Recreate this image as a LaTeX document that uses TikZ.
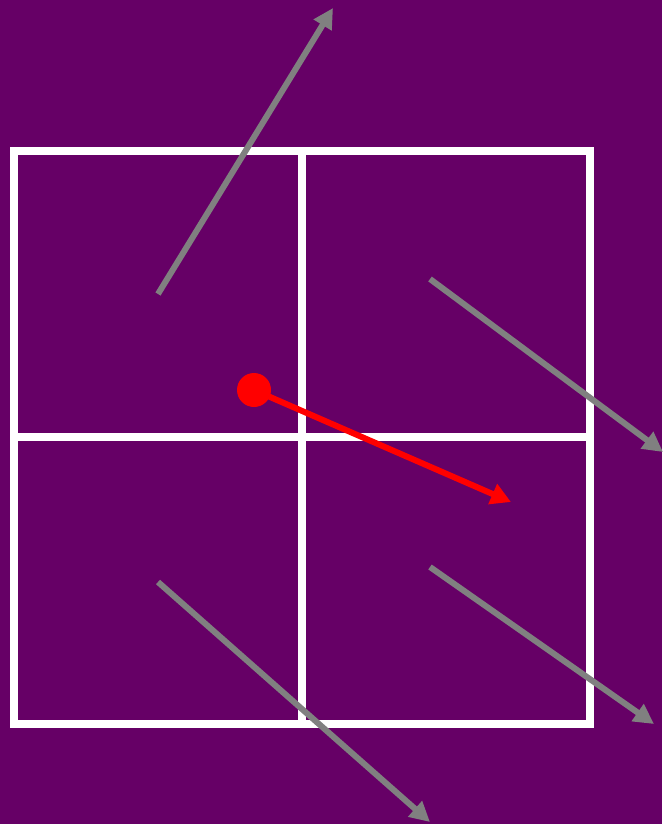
\documentclass[tikz,border=0pt]{standalone}
\usetikzlibrary{arrows.meta}
\definecolor{bgpurple}{HTML}{660066}
\definecolor{vecgray}{HTML}{808080}
\begin{document}
\begin{tikzpicture}[x=1pt,y=-1pt,
  gridline/.style={white,line width=8pt},
  vec/.style={vecgray,line width=6pt,-{Triangle[length=20pt,width=20pt]}},
  redvec/.style={red,line width=6pt,-{Triangle[length=20pt,width=21pt]}}]
\fill[bgpurple] (0,0) rectangle (662,824);
\useasboundingbox (0,0) rectangle (662,824);
% grid
\coordinate (tl) at (14,151);
\coordinate (br) at (590,724);
\draw[gridline] (tl) rectangle (br);
\draw[gridline] (302,151) -- (302,724);
\draw[gridline] (14,437) -- (590,437);
% gray vectors
\coordinate (a1) at (158,294); \coordinate (b1) at (333,8);
\coordinate (a2) at (430,279); \coordinate (b2) at (663,452);
\coordinate (a3) at (158,582); \coordinate (b3) at (430,822);
\coordinate (a4) at (430,567); \coordinate (b4) at (654,724);
\draw[vec] (a1) -- (b1);
\draw[vec] (a2) -- (b2);
\draw[vec] (a3) -- (b3);
\draw[vec] (a4) -- (b4);
% red vector
\coordinate (p) at (254,390); \coordinate (q) at (511,502);
\draw[redvec] (p) -- (q);
\fill[red] (p) circle (17);
\end{tikzpicture}
\end{document}
